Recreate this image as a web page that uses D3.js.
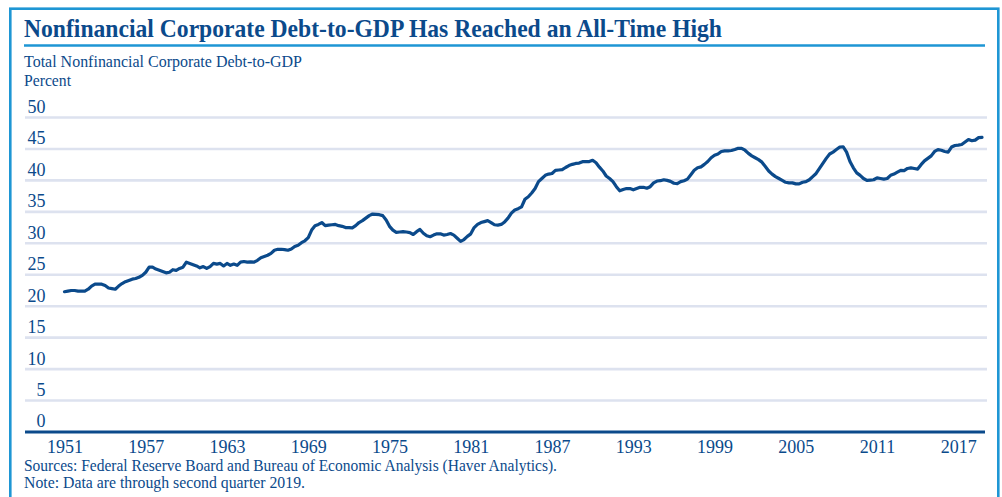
<!DOCTYPE html>
<html>
<head>
<meta charset="utf-8">
<script src="https://cdn.jsdelivr.net/npm/d3@7/dist/d3.min.js"></script>
<style>
  html, body { margin: 0; padding: 0; background: #ffffff; }
  svg { display: block; }
  text { font-family: "Liberation Serif", "Times New Roman", serif; }
</style>
</head>
<body>
<svg id="chart" width="1002" height="497"></svg>
<script>
// Total nonfinancial corporate debt-to-GDP, percent, quarterly from 1951 Q3 to 2019 Q2
const firstQuarter = 1951.5;   // 1951 Q3 as a decimal year
const debtToGdp = [
  22.3, 22.4,                      // 1951 Q3-Q4
  22.5, 22.5, 22.4, 22.4,          // 1952
  22.4, 22.7, 23.2, 23.5,          // 1953
  23.5, 23.5, 23.3, 22.9,          // 1954
  22.8, 22.7, 23.2, 23.6,          // 1955
  23.9, 24.1, 24.3, 24.4,          // 1956
  24.6, 24.9, 25.4, 26.2,          // 1957
  26.2, 25.9, 25.7, 25.5,          // 1958
  25.3, 25.4, 25.8, 25.7,          // 1959
  26.0, 26.2, 27.0, 26.8,          // 1960
  26.6, 26.4, 26.1, 26.3,          // 1961
  26.0, 26.3, 26.8, 26.7,          // 1962
  26.8, 26.4, 26.8, 26.5,          // 1963
  26.7, 26.5, 27.0, 27.1,          // 1964
  27.0, 27.05, 27.0, 27.3,         // 1965
  27.7, 27.9, 28.1, 28.4,          // 1966
  28.9, 29.05, 29.05, 29.0,        // 1967
  28.9, 29.1, 29.5, 29.7,          // 1968
  30.1, 30.4, 30.9, 32.1,          // 1969
  32.8, 33.0, 33.3, 32.8,          // 1970
  32.9, 32.95, 33.0, 32.8,         // 1971
  32.7, 32.5, 32.5, 32.45,         // 1972
  32.8, 33.3, 33.6, 34.0,          // 1973
  34.4, 34.65, 34.6, 34.55,        // 1974
  34.4, 33.7, 32.7, 32.1,          // 1975
  31.75, 31.8, 31.85, 31.8,        // 1976
  31.7, 31.4, 31.85, 32.2,         // 1977
  31.6, 31.2, 31.05, 31.3,         // 1978
  31.5, 31.5, 31.3, 31.4,          // 1979
  31.55, 31.3, 30.8, 30.3,         // 1980
  30.6, 31.1, 31.5, 32.5,          // 1981
  33.0, 33.3, 33.45, 33.6,         // 1982
  33.3, 32.95, 32.9, 33.0,         // 1983
  33.4, 34.0, 34.8, 35.3,          // 1984
  35.5, 35.8, 37.0, 37.4,          // 1985
  38.0, 38.7, 39.8, 40.3,          // 1986
  40.8, 41.0, 41.1, 41.6,          // 1987
  41.65, 41.7, 42.05, 42.35,       // 1988
  42.55, 42.7, 42.75, 42.97,       // 1989
  42.97, 43.0, 43.2, 42.8,         // 1990
  42.1, 41.5, 40.7, 40.3,          // 1991
  39.8, 39.0, 38.35, 38.55,        // 1992
  38.7, 38.7, 38.5, 38.7,          // 1993
  38.9, 38.9, 38.75, 39.0,         // 1994
  39.6, 39.9, 39.95, 40.1,         // 1995
  40.0, 39.85, 39.55, 39.5,        // 1996
  39.8, 39.95, 40.2, 40.9,         // 1997
  41.6, 42.0, 42.15, 42.55,        // 1998
  43.0, 43.6, 44.0, 44.2,          // 1999
  44.6, 44.7, 44.7, 44.75,         // 2000
  44.9, 45.1, 45.1, 44.8,          // 2001
  44.3, 43.9, 43.6, 43.3,          // 2002
  42.9, 42.2, 41.5, 41.0,          // 2003
  40.6, 40.3, 40.0, 39.7,          // 2004
  39.6, 39.6, 39.45, 39.45,        // 2005
  39.7, 39.8, 40.1, 40.6,          // 2006
  41.1, 41.9, 42.7, 43.5,          // 2007
  44.2, 44.5, 44.9, 45.3,          // 2008
  45.35, 44.5, 43.0, 42.0,         // 2009
  41.2, 40.8, 40.3, 40.0,          // 2010
  40.05, 40.1, 40.4, 40.3,         // 2011
  40.2, 40.3, 40.8, 41.0,          // 2012
  41.3, 41.6, 41.55, 41.9,         // 2013
  42.0, 41.9, 41.8, 42.5,          // 2014
  43.1, 43.5, 43.9, 44.6,          // 2015
  44.9, 44.8, 44.6, 44.5,          // 2016
  45.3, 45.55, 45.6, 45.7,         // 2017
  46.1, 46.5, 46.3, 46.4,          // 2018
  46.8, 46.85                      // 2019 Q1-Q2
];

const xTickYears = [1951, 1957, 1963, 1969, 1975, 1981, 1987, 1993, 1999, 2005, 2011, 2017];
const yTickValues = [0, 5, 10, 15, 20, 25, 30, 35, 40, 45, 50];

const titleText = "Nonfinancial Corporate Debt-to-GDP Has Reached an All-Time High";
const subtitleText = "Total Nonfinancial Corporate Debt-to-GDP";
const unitText = "Percent";
const sourceText = "Sources: Federal Reserve Board and Bureau of Economic Analysis (Haver Analytics).";
const noteText = "Note: Data are through second quarter 2019.";

// Palette
const navy = "#0b4a8b";
const frameBlue = "#1e96d4";
const gridColor = "#dde2ef";

const series = debtToGdp.map((v, i) => ({ t: firstQuarter + i * 0.25, v }));

const svg = d3.select("#chart");

// Outer frame
svg.append("rect")
  .attr("x", 10.3).attr("y", 8.7)
  .attr("width", 988).attr("height", 500)
  .attr("fill", "#ffffff")
  .attr("stroke", frameBlue).attr("stroke-width", 2.6);

// Title and rule underneath it
svg.append("text")
  .attr("x", 24).attr("y", 36.5)
  .attr("fill", navy)
  .attr("font-size", 26).attr("font-weight", "bold")
  .attr("textLength", 698).attr("lengthAdjust", "spacingAndGlyphs")
  .text(titleText);

svg.append("line")
  .attr("x1", 24).attr("x2", 985)
  .attr("y1", 45.5).attr("y2", 45.5)
  .attr("stroke", frameBlue).attr("stroke-width", 2.6);

svg.append("text")
  .attr("x", 24).attr("y", 66.5)
  .attr("fill", navy).attr("font-size", 16.5)
  .attr("textLength", 278).attr("lengthAdjust", "spacingAndGlyphs")
  .text(subtitleText);

svg.append("text")
  .attr("x", 24).attr("y", 85.5)
  .attr("fill", navy).attr("font-size", 16.5)
  .attr("textLength", 47).attr("lengthAdjust", "spacingAndGlyphs")
  .text(unitText);

// Scales
const x = d3.scaleLinear().domain([firstQuarter, 2019.25]).range([64.5, 982]);
const y = d3.scaleLinear().domain([0, 50]).range([432, 117.5]);

// Horizontal gridlines
svg.append("g")
  .selectAll("line")
  .data(yTickValues.filter(d => d > 0))
  .join("line")
  .attr("x1", 25).attr("x2", 987)
  .attr("y1", d => y(d)).attr("y2", d => y(d))
  .attr("stroke", gridColor).attr("stroke-width", 2.6);

// Y tick labels sit just above their gridlines
const yAxis = svg.append("g")
  .attr("transform", "translate(45.5,0)")
  .call(d3.axisLeft(y).tickValues(yTickValues).tickSize(0).tickPadding(0).tickFormat(d3.format("d")));
yAxis.select(".domain").remove();
yAxis.selectAll("text")
  .attr("x", 0).attr("dy", "-0.28em")
  .attr("fill", navy)
  .attr("font-size", 18)
  .attr("font-family", "Liberation Serif, serif");

// Baseline
svg.append("line")
  .attr("x1", 25).attr("x2", 985)
  .attr("y1", y(0)).attr("y2", y(0))
  .attr("stroke", navy).attr("stroke-width", 3.2);

// X tick labels, centred on mid-year
const xAxis = svg.append("g")
  .attr("transform", `translate(0,${y(0)})`)
  .call(d3.axisBottom(x)
    .tickValues(xTickYears.map(d => d + 0.5))
    .tickSize(0).tickPadding(0)
    .tickFormat(d => String(Math.floor(d))));
xAxis.select(".domain").remove();
xAxis.selectAll("text")
  .attr("y", 0).attr("dy", 20.5)
  .attr("fill", navy)
  .attr("font-size", 18)
  .attr("font-family", "Liberation Serif, serif");

// Debt-to-GDP line
svg.append("path")
  .datum(series)
  .attr("fill", "none")
  .attr("stroke", navy)
  .attr("stroke-width", 3.2)
  .attr("stroke-linejoin", "round")
  .attr("stroke-linecap", "round")
  .attr("d", d3.line().x(d => x(d.t)).y(d => y(d.v)));

// Footnotes
svg.append("text")
  .attr("x", 24).attr("y", 471)
  .attr("fill", navy).attr("font-size", 16)
  .attr("textLength", 533).attr("lengthAdjust", "spacingAndGlyphs")
  .text(sourceText);

svg.append("text")
  .attr("x", 24).attr("y", 487.5)
  .attr("fill", navy).attr("font-size", 16)
  .attr("textLength", 281).attr("lengthAdjust", "spacingAndGlyphs")
  .text(noteText);
</script>
</body>
</html>
